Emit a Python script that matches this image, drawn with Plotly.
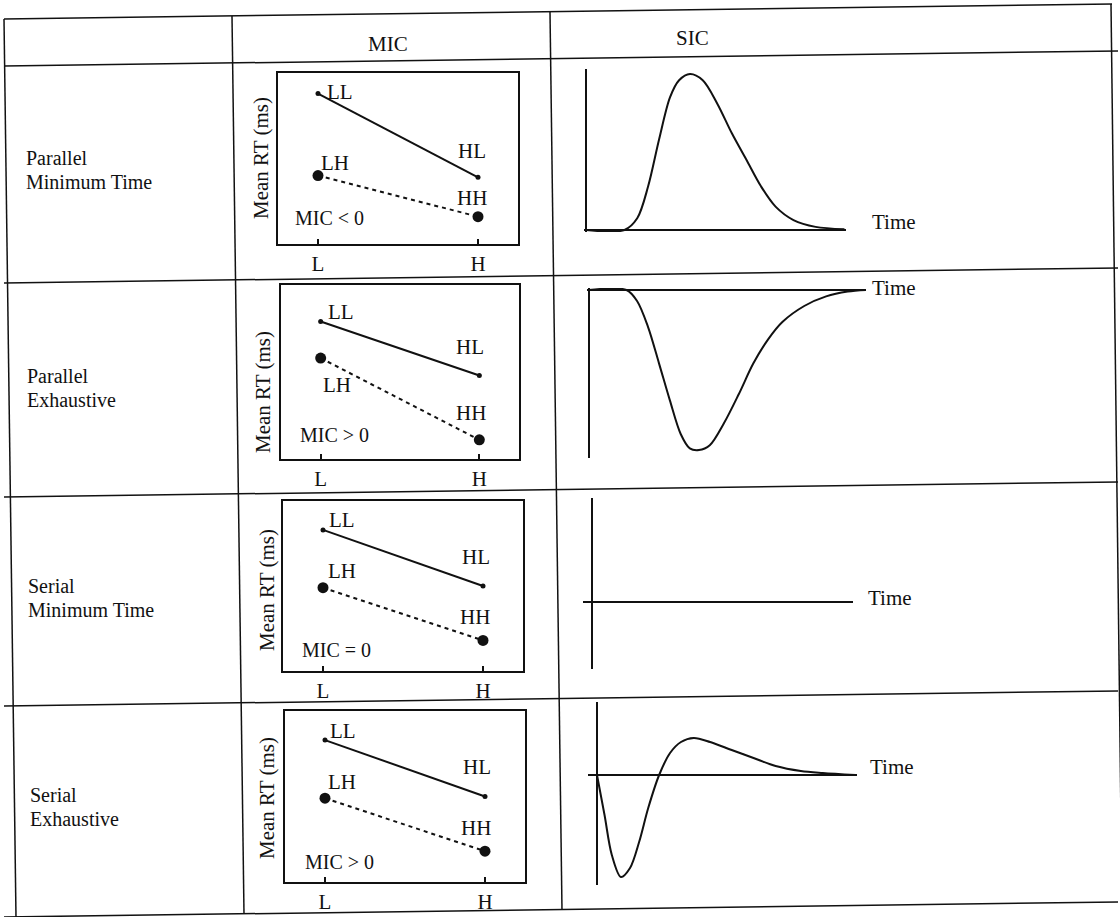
import plotly.graph_objects as go

W, H = 1120, 917

# ---------------- data ----------------
col_headers = ["MIC", "SIC"]
row_labels_top = ["Parallel", "Parallel", "Serial", "Serial"]
row_labels_bottom = ["Minimum Time", "Exhaustive", "Minimum Time", "Exhaustive"]
mic_levels = ["L", "H"]              # level of factor on x axis
ll_vals = [88, 79, 83, 83]           # Mean RT, LL condition
hl_vals = [39, 48, 50, 50]           # Mean RT, HL condition
lh_vals = [40, 58, 49, 49]           # Mean RT, LH condition
hh_vals = [16, 11, 18, 18]           # Mean RT, HH condition
mic_signs = ["MIC < 0", "MIC > 0", "MIC = 0", "MIC > 0"]

# SIC curves (time, SIC value)
sic1_t = [0, 1.48, 1.97, 2.39, 2.81, 3.23, 3.58, 4.0, 4.49, 5.05, 5.61, 6.17, 6.73, 7.29, 7.98, 8.83, 9.94]
sic1_v = [0, 0, 0.075, 0.28, 0.58, 0.85, 0.96, 1.0, 0.96, 0.81, 0.62, 0.45, 0.28, 0.15, 0.064, 0.02, 0.005]
sic2_t = [0, 1.35, 1.74, 2.13, 2.53, 2.92, 3.31, 3.64, 3.97, 4.36, 4.88, 5.41, 5.93, 6.46, 6.98, 7.77, 8.56, 9.34, 10]
sic2_v = [0, 0, -0.07, -0.23, -0.46, -0.69, -0.90, -0.99, -1.0, -0.97, -0.83, -0.65, -0.46, -0.31, -0.20, -0.10, -0.04, -0.01, 0]
sic3_t = [0, 10]
sic3_v = [0, 0]
sic4_t = [0, 0.29, 0.57, 0.92, 1.27, 1.62, 1.97, 2.39, 2.81, 3.23, 3.72, 4.35, 5.18, 6.02, 6.87, 7.84, 8.68, 9.94]
sic4_v = [0, -0.40, -0.80, -1.02, -0.93, -0.67, -0.33, 0, 0.22, 0.33, 0.37, 0.33, 0.25, 0.17, 0.09, 0.04, 0.02, 0]
sic_t = [sic1_t, sic2_t, sic3_t, sic4_t]
sic_v = [sic1_v, sic2_v, sic3_v, sic4_v]

# ---------------- layout helpers (pixel geometry) ----------------
FONT = "Liberation Serif"
FS = 21
INK = "#111"


def fx(x):
    return x / W


def fy(y):
    return 1 - y / H


def dom_x(l, r):
    return [fx(l), fx(r)]


def dom_y(top, bottom):
    return [fy(bottom), fy(top)]


fig = go.Figure()
annotations = []
shapes = []

# table grid (scan is slightly rotated)
grid_lines = [
    ((4, 19), (1112, 4)),
    ((4, 66), (1118, 51)),
    ((4, 283), (1118, 268)),
    ((4, 497), (1118, 482)),
    ((4, 706), (1118, 691)),
    ((4, 917), (1118, 902)),
    ((4, 19), (16, 917)),
    ((232, 16), (244, 914)),
    ((550, 12), (562, 910)),
    ((1111, 4), (1122, 902)),
]
for (x0, y0), (x1, y1) in grid_lines:
    shapes.append(dict(type="line", xref="paper", yref="paper",
                       x0=fx(x0), y0=fy(y0), x1=fx(x1), y1=fy(y1),
                       line=dict(color=INK, width=1.5)))

# headers
header_pos = [(388, 44), (692, 38)]
for txt, (x, y) in zip(col_headers, header_pos):
    annotations.append(dict(text=txt, xref="paper", yref="paper", x=fx(x), y=fy(y),
                            showarrow=False, xanchor="center", yanchor="middle",
                            font=dict(family=FONT, size=FS, color=INK)))

# row labels (two lines each)
row_label_pos = [(24, 158, 182), (25, 376, 400), (26, 586, 610), (28, 795, 819)]
for top, bot, (x, y1, y2) in zip(row_labels_top, row_labels_bottom, row_label_pos):
    for txt, y in [(top, y1), (bot, y2)]:
        annotations.append(dict(text=txt, xref="paper", yref="paper", x=fx(x), y=fy(y),
                                showarrow=False, xanchor="left", yanchor="middle", align="left",
                                font=dict(family=FONT, size=FS - 1, color=INK)))

# ---------------- MIC panels ----------------
mic_boxes = [(278, 518, 73, 244), (281, 519, 285, 459), (283, 523, 501, 671), (285, 525, 711, 882)]
ylab_pos = [(261, 158), (263, 392), (267, 590), (267, 798)]
# label offsets (xshift, yshift) relative to the points
off_ll = [(22, 2), (20, 10), (19, 10), (18, 9)]
off_hl = [(-6, 26), (-9, 28), (-7, 29), (-8, 30)]
off_lh = [(17, 13), (16, -27), (19, 17), (17, 16)]
off_hh = [(-6, 19), (-8, 27), (-8, 23), (-9, 23)]
sign_pos = [(0.0625, 0.15), (0.07, 0.14), (0.07, 0.125), (0.075, 0.117)]

xpos = [0, 1]
for i in range(4):
    n = i + 1
    xa = "x" if n == 1 else f"x{n}"
    ya = "y" if n == 1 else f"y{n}"
    l, r, t, b = mic_boxes[i]
    fig.add_trace(go.Scatter(x=xpos, y=[ll_vals[i], hl_vals[i]], xaxis=xa, yaxis=ya,
                             mode="lines+markers", line=dict(color=INK, width=2),
                             marker=dict(size=5, color=INK), showlegend=False, hoverinfo="skip"))
    fig.add_trace(go.Scatter(x=xpos, y=[lh_vals[i], hh_vals[i]], xaxis=xa, yaxis=ya,
                             mode="lines+markers", line=dict(color=INK, width=2, dash="4px,4px"),
                             marker=dict(size=11, color=INK), showlegend=False, hoverinfo="skip"))
    fig.layout[f"xaxis{'' if n == 1 else n}"] = dict(
        domain=dom_x(l, r), anchor=ya, range=[-0.25, 1.25],
        tickvals=xpos, ticktext=mic_levels, ticks="inside", ticklen=5, tickwidth=1.5,
        tickcolor=INK, showline=True, mirror=True, linecolor=INK, linewidth=2,
        showgrid=False, zeroline=False, fixedrange=True,
        tickfont=dict(family=FONT, size=FS, color=INK))
    fig.layout[f"yaxis{'' if n == 1 else n}"] = dict(
        domain=dom_y(t, b), anchor=xa, range=[0, 100],
        showticklabels=False, ticks="", showline=True, mirror=True,
        linecolor=INK, linewidth=2, showgrid=False, zeroline=False, fixedrange=True)
    for txt, xv, yv, (dx, dy) in [("LL", 0, ll_vals[i], off_ll[i]), ("HL", 1, hl_vals[i], off_hl[i]),
                                  ("LH", 0, lh_vals[i], off_lh[i]), ("HH", 1, hh_vals[i], off_hh[i])]:
        annotations.append(dict(text=txt, xref=xa, yref=ya, x=xv, y=yv, xshift=dx, yshift=dy,
                                showarrow=False, xanchor="center", yanchor="middle",
                                font=dict(family=FONT, size=FS, color=INK)))
    sx, sy = sign_pos[i]
    annotations.append(dict(text=mic_signs[i], xref=f"{xa} domain", yref=f"{ya} domain",
                            x=sx, y=sy, showarrow=False, xanchor="left", yanchor="middle",
                            font=dict(family=FONT, size=FS - 1, color=INK)))
    lx, ly = ylab_pos[i]
    annotations.append(dict(text="Mean RT (ms)", xref="paper", yref="paper", x=fx(lx), y=fy(ly),
                            showarrow=False, textangle=-90, xanchor="center", yanchor="middle",
                            font=dict(family=FONT, size=FS, color=INK)))

# ---------------- SIC panels ----------------
# (left, right, top, bottom) domain px ; origin px ; px per unit (t, v)
sic_geom = [
    ((584, 846, 69, 232), (586, 230), (26.0, 156.0)),
    ((587, 866, 288, 458), (589, 290), (27.7, 160.0)),
    ((583, 853, 498, 669), (592, 602), (26.0, 100.0)),
    ((588, 857, 702, 885), (597, 775), (26.0, 100.0)),
]
time_shift = [(24, 8), (4, 2), (13, 4), (11, 8)]
for i in range(4):
    n = i + 5
    xa, ya = f"x{n}", f"y{n}"
    (l, r, t, b), (ox, oy), (st, sv) = sic_geom[i]
    fig.add_trace(go.Scatter(x=sic_t[i], y=sic_v[i], xaxis=xa, yaxis=ya, mode="lines",
                             line=dict(color=INK, width=2, shape="spline", smoothing=0.9),
                             showlegend=False, hoverinfo="skip"))
    fig.layout[f"xaxis{n}"] = dict(
        domain=dom_x(l, r), anchor=ya, range=[(l - ox) / st, (r - ox) / st],
        showticklabels=False, ticks="", showline=False, showgrid=False,
        zeroline=True, zerolinecolor=INK, zerolinewidth=2, fixedrange=True)
    fig.layout[f"yaxis{n}"] = dict(
        domain=dom_y(t, b), anchor=xa, range=[(oy - b) / sv, (oy - t) / sv],
        showticklabels=False, ticks="", showline=False, showgrid=False,
        zeroline=True, zerolinecolor=INK, zerolinewidth=2, fixedrange=True)
    dx, dy = time_shift[i]
    annotations.append(dict(text="Time", xref=f"{xa} domain", yref=ya, x=1, y=0,
                            xshift=dx, yshift=dy, showarrow=False, xanchor="left", yanchor="middle",
                            font=dict(family=FONT, size=FS, color=INK)))

fig.update_layout(width=W, height=H, margin=dict(l=0, r=0, t=0, b=0),
                  paper_bgcolor="white", plot_bgcolor="white",
                  annotations=annotations, shapes=shapes, showlegend=False)

fig.write_html("out.html", config={"displayModeBar": False},
               post_script="document.body.style.margin='0';document.body.style.overflow='hidden';")
